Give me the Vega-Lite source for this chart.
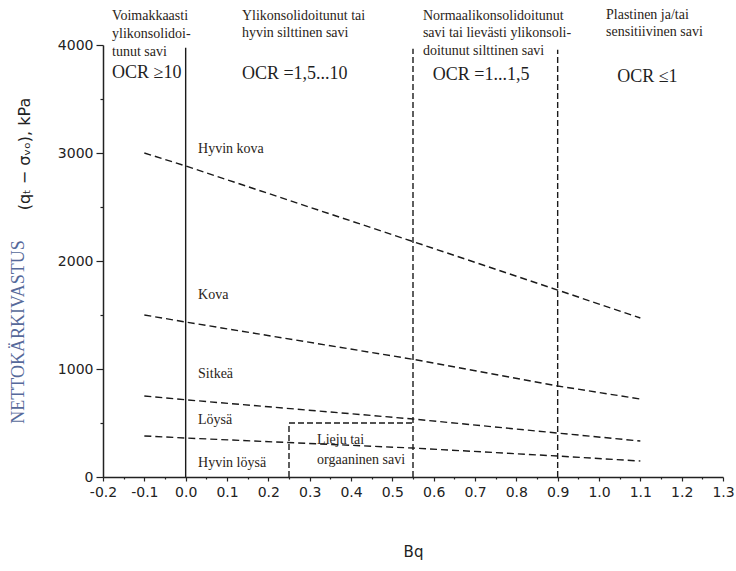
{
  "$schema": "https://vega.github.io/schema/vega-lite/v6.json",
  "autosize": "none",
  "width": 620,
  "height": 432,
  "padding": {"left": 103, "top": 45, "right": 13, "bottom": 94},
  "background": "white",
  "config": {"view": {"stroke": null}},
  "datasets": {
    "curves": [
      {"series": "Hyvin kova", "x": -0.1, "y": 3000},
      {"series": "Hyvin kova", "x": 0.0, "y": 2880},
      {"series": "Hyvin kova", "x": 0.55, "y": 2180},
      {"series": "Hyvin kova", "x": 0.9, "y": 1731},
      {"series": "Hyvin kova", "x": 1.1, "y": 1472},
      {"series": "Kova", "x": -0.1, "y": 1500},
      {"series": "Kova", "x": 0.0, "y": 1435},
      {"series": "Kova", "x": 0.55, "y": 1090},
      {"series": "Kova", "x": 0.9, "y": 843},
      {"series": "Kova", "x": 1.1, "y": 722},
      {"series": "Sitkeä", "x": -0.1, "y": 750},
      {"series": "Sitkeä", "x": 0.0, "y": 715},
      {"series": "Sitkeä", "x": 0.55, "y": 537},
      {"series": "Sitkeä", "x": 0.9, "y": 407},
      {"series": "Sitkeä", "x": 1.1, "y": 333},
      {"series": "Löysä", "x": -0.1, "y": 380},
      {"series": "Löysä", "x": 0.0, "y": 361},
      {"series": "Löysä", "x": 0.55, "y": 268},
      {"series": "Löysä", "x": 0.9, "y": 194},
      {"series": "Löysä", "x": 1.1, "y": 148}
    ],
    "solid": [
      {"x": 0, "x2": 0, "y": 0, "y2": 3975}
    ],
    "dashed": [
      {"x": 0.55, "x2": 0.55, "y": 0, "y2": 3965},
      {"x": 0.9, "x2": 0.9, "y": 0, "y2": 3955},
      {"x": 0.25, "x2": 0.25, "y": 0, "y2": 500},
      {"x": 0.25, "x2": 0.55, "y": 500, "y2": 500}
    ],
    "notes": [
      {"text": "Voimakkaasti", "x": -0.178, "y": 4268},
      {"text": "ylikonsolidoi-", "x": -0.178, "y": 4102},
      {"text": "tunut savi", "x": -0.178, "y": 3935},
      {"text": "Ylikonsolidoitunut tai", "x": 0.136, "y": 4268},
      {"text": "hyvin silttinen savi", "x": 0.136, "y": 4111},
      {"text": "Normaalikonsolidoitunut", "x": 0.574, "y": 4268},
      {"text": "savi tai lievästi ylikonsoli-", "x": 0.574, "y": 4111},
      {"text": "doitunut silttinen savi", "x": 0.574, "y": 3944},
      {"text": "Plastinen ja/tai", "x": 1.017, "y": 4278},
      {"text": "sensitiivinen savi", "x": 1.017, "y": 4120},
      {"text": "Hyvin kova", "x": 0.03, "y": 3037},
      {"text": "Kova", "x": 0.03, "y": 1685},
      {"text": "Sitkeä", "x": 0.03, "y": 954},
      {"text": "Löysä", "x": 0.03, "y": 528},
      {"text": "Hyvin löysä", "x": 0.03, "y": 130},
      {"text": "Lieju tai", "x": 0.318, "y": 343},
      {"text": "orgaaninen savi", "x": 0.318, "y": 157}
    ],
    "ocr": [
      {"text": "OCR ≥10", "x": -0.178, "y": 3741},
      {"text": "OCR =1,5...10", "x": 0.136, "y": 3731},
      {"text": "OCR =1...1,5", "x": 0.598, "y": 3722},
      {"text": "OCR ≤1", "x": 1.044, "y": 3704}
    ],
    "ytitle1": [
      {"text": "NETTOKÄRKIVASTUS", "x": -0.403, "y": 1343}
    ],
    "ytitle2": [
      {"text": "(qₜ − σᵥₒ), kPa", "x": -0.389, "y": 2990}
    ]
  },
  "encoding": {
    "x": {
      "field": "x", "type": "quantitative",
      "scale": {"domain": [-0.2, 1.3], "nice": false, "zero": false},
      "axis": {
        "title": "Bq",
        "titleFont": "DejaVu Sans", "titleFontSize": 15, "titleFontWeight": "normal", "titleColor": "#222",
        "titlePadding": 45,
        "values": [-0.2, -0.15, -0.1, -0.05, 0, 0.05, 0.1, 0.15, 0.2, 0.25, 0.3, 0.35, 0.4, 0.45, 0.5, 0.55, 0.6, 0.65, 0.7, 0.75, 0.8, 0.85, 0.9, 0.95, 1.0, 1.05, 1.1, 1.15, 1.2, 1.25, 1.3],
        "labelExpr": "abs(round(datum.value*20)) % 2 == 1 ? '' : (datum.value < -0.001 ? '-' : '') + format(abs(datum.value), '.1f')",
        "labelFont": "DejaVu Sans", "labelFontSize": 14, "labelColor": "#222",
        "labelPadding": 4, "labelFlush": false, "labelOverlap": false,
        "tickSize": {"condition": {"test": "abs(round(datum.value*20)) % 2 == 1", "value": 2}, "value": 4},
        "tickColor": "#222", "domainColor": "#222", "domainWidth": 1.5, "tickWidth": 1.2,
        "grid": false
      }
    },
    "y": {
      "field": "y", "type": "quantitative",
      "scale": {"domain": [0, 4000], "nice": false, "zero": false},
      "axis": {
        "title": null,
        "values": [0, 500, 1000, 1500, 2000, 2500, 3000, 3500, 4000],
        "labelExpr": "datum.value % 1000 == 0 ? format(datum.value, 'd') : ''",
        "labelFont": "DejaVu Sans", "labelFontSize": 14, "labelColor": "#222",
        "labelPadding": 3, "labelFlush": false,
        "tickSize": {"condition": {"test": "datum.value % 1000 != 0", "value": 3}, "value": 7},
        "tickColor": "#222", "domainColor": "#222", "domainWidth": 1.5, "tickWidth": 1.2,
        "grid": false
      }
    }
  },
  "layer": [
    {
      "data": {"name": "curves"},
      "mark": {"type": "line", "color": "#1a1a1a", "strokeWidth": 1.4, "strokeDash": [7, 4]},
      "encoding": {"detail": {"field": "series"}}
    },
    {
      "data": {"name": "solid"},
      "mark": {"type": "rule", "color": "#1a1a1a", "strokeWidth": 1.4},
      "encoding": {"x2": {"field": "x2"}, "y2": {"field": "y2"}}
    },
    {
      "data": {"name": "dashed"},
      "mark": {"type": "rule", "color": "#1a1a1a", "strokeWidth": 1.4, "strokeDash": [6, 3]},
      "encoding": {"x2": {"field": "x2"}, "y2": {"field": "y2"}}
    },
    {
      "data": {"name": "notes"},
      "mark": {"type": "text", "font": "Liberation Serif", "fontSize": 14, "align": "left", "baseline": "middle", "color": "#2a2418"},
      "encoding": {"text": {"field": "text"}}
    },
    {
      "data": {"name": "ocr"},
      "mark": {"type": "text", "font": "Liberation Serif", "fontSize": 18, "align": "left", "baseline": "middle", "color": "#1f1f1f"},
      "encoding": {"text": {"field": "text"}}
    },
    {
      "data": {"name": "ytitle1"},
      "mark": {"type": "text", "font": "Liberation Serif", "fontSize": 18, "align": "center", "baseline": "middle", "angle": 270, "color": "#56699a"},
      "encoding": {"text": {"field": "text"}}
    },
    {
      "data": {"name": "ytitle2"},
      "mark": {"type": "text", "font": "DejaVu Sans", "fontSize": 16, "align": "center", "baseline": "middle", "angle": 270, "color": "#222"},
      "encoding": {"text": {"field": "text"}}
    }
  ]
}
